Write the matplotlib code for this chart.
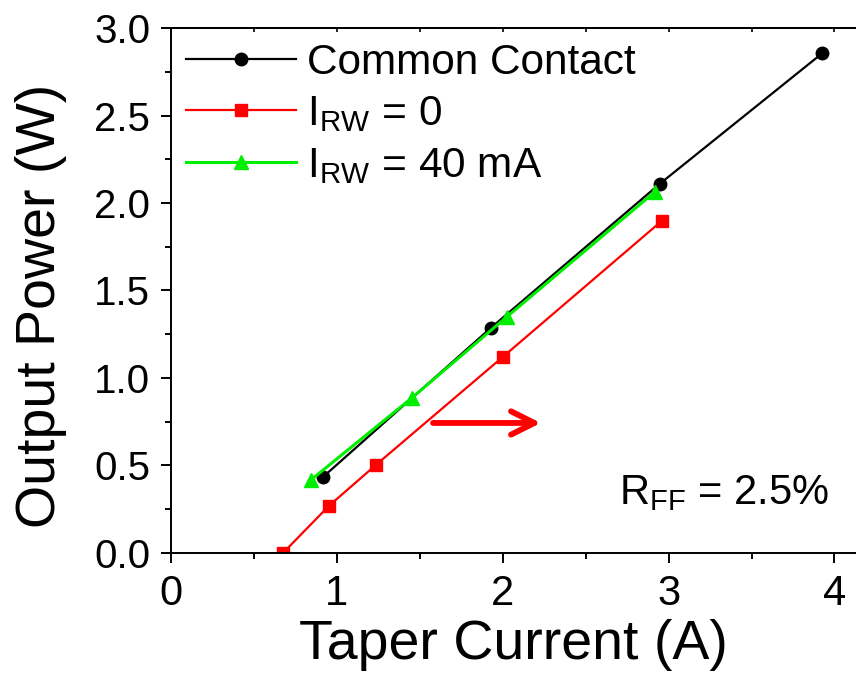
import numpy as np
import matplotlib
matplotlib.use('Agg')
import matplotlib.pyplot as plt
from matplotlib.ticker import MultipleLocator

plt.rcParams['font.family'] = ['Liberation Sans', 'DejaVu Sans']
plt.rcParams['mathtext.fontset'] = 'custom'
plt.rcParams['mathtext.rm'] = 'Liberation Sans'

# data
x_common = [0.916, 1.928, 2.946, 3.928]
y_common = [0.434, 1.286, 2.109, 2.857]
x_rw0 = [0.675, 0.952, 1.235, 2.000, 2.958]
y_rw0 = [0.000, 0.269, 0.503, 1.120, 1.897]
x_rw40 = [0.843, 1.452, 2.024, 2.916]
y_rw40 = [0.417, 0.886, 1.349, 2.063]

fig = plt.figure(figsize=(8.56, 6.8), dpi=100)
ax = fig.add_axes([0.1998, 0.1868, 0.8002, 0.772])

ax.plot(x_common, y_common, '-o', color='black', lw=1.6, ms=9, label='Common Contact')
ax.plot(x_rw0, y_rw0, '-s', color='#ff0000', lw=1.6, ms=8.5, label=r'$\mathregular{I_{RW}}$ = 0')
ax.plot(x_rw40, y_rw40, '-^', color='#00ee00', lw=2.2, ms=10, label=r'$\mathregular{I_{RW}}$ = 40 mA')

# red arrow
ax.annotate('', xy=(2.23, 0.743), xytext=(1.58, 0.743),
            arrowprops=dict(arrowstyle='->', color='#ff0000', lw=4.2,
                            mutation_scale=42, shrinkA=0, shrinkB=0))

ax.text(2.7, 0.28, r'$\mathregular{R_{FF}}$ = 2.5%', fontsize=30, ha='left', va='baseline')

ax.set_xlim(0, 4.13)
ax.set_ylim(0, 3.0)
ax.xaxis.set_major_locator(MultipleLocator(1))
ax.xaxis.set_minor_locator(MultipleLocator(0.5))
ax.yaxis.set_major_locator(MultipleLocator(0.5))
ax.yaxis.set_minor_locator(MultipleLocator(0.25))
ax.yaxis.set_major_formatter(matplotlib.ticker.FormatStrFormatter('%.1f'))

ax.tick_params(which='major', direction='out', length=7, width=1.4, labelsize=30, pad=8)
ax.tick_params(which='minor', direction='out', length=4.5, width=1.4)
ax.tick_params(axis='y', labelsize=29)

for s in ['left', 'bottom', 'top']:
    ax.spines[s].set_linewidth(1.4)
ax.spines['right'].set_visible(False)

top = ax.secondary_xaxis('top')
top.set_xticks(np.arange(0, 4.01, 0.5))
top.tick_params(direction='in', length=3, width=1.2, labeltop=False)
top.spines['top'].set_linewidth(1.4)

ax.set_xlabel('Taper Current (A)', fontsize=40, labelpad=4)
ax.set_ylabel('Output Power (W)', fontsize=40)
ax.yaxis.set_label_coords(-0.152, 0.47)

ax.legend(loc='upper left', frameon=False, fontsize=30.5, handlelength=2.6,
          handletextpad=0.25, labelspacing=0.27, borderaxespad=0.05,
          borderpad=0.3)

fig.savefig('out.png', dpi=100)
